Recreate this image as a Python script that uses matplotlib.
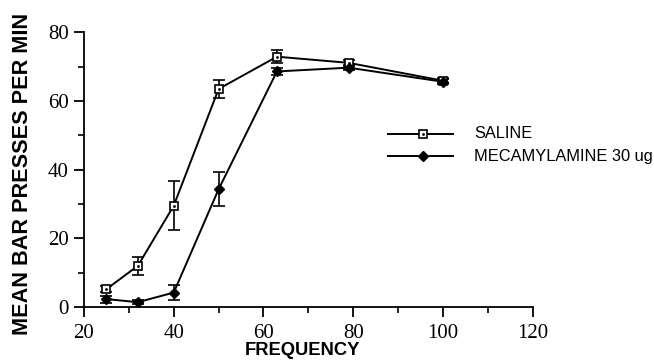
import matplotlib
matplotlib.use("Agg")
import matplotlib.pyplot as plt
from matplotlib.lines import Line2D
from matplotlib.ticker import MultipleLocator

# values
frequency = [25, 32, 40, 50, 63, 79, 100]
saline = [5.2, 12.0, 29.5, 63.5, 72.9, 71.1, 65.9]
saline_err = [0.8, 2.7, 7.1, 2.5, 1.8, 0.9, 0.8]
mecamylamine = [2.3, 1.4, 4.2, 34.3, 68.6, 69.7, 65.6]
mecamylamine_err = [1.0, 0.6, 2.3, 4.9, 0.9, 0.8, 0.8]

labels = ["SALINE", "MECAMYLAMINE 30 ug"]

W, H = 654, 360
fig = plt.figure(figsize=(W / 100, H / 100), dpi=100)
ax = fig.add_axes([84 / W, 1 - 307 / H, 448.7 / W, 274.7 / H])

sal_style = dict(color="black", lw=1.4, marker="s", ms=6, mfc="white", mec="black", mew=1.2)
mec_style = dict(color="black", lw=1.4, marker="D", ms=5.5, mfc="black", mec="black")

ax.errorbar(frequency, saline, yerr=saline_err, capsize=4, elinewidth=1.2,
            capthick=1.2, zorder=3, **sal_style)
ax.plot(frequency, saline, ls="none", marker=".", ms=2, color="black", zorder=4)
ax.errorbar(frequency, mecamylamine, yerr=mecamylamine_err, capsize=4,
            elinewidth=1.2, capthick=1.2, zorder=3, **mec_style)

ax.set_xlim(20, 120)
ax.set_ylim(0, 80)
ax.spines["top"].set_visible(False)
ax.spines["right"].set_visible(False)
for side in ("left", "bottom"):
    ax.spines[side].set_linewidth(1.3)

ax.xaxis.set_major_locator(MultipleLocator(20))
ax.xaxis.set_minor_locator(MultipleLocator(10))
ax.yaxis.set_major_locator(MultipleLocator(20))
ax.yaxis.set_minor_locator(MultipleLocator(10))
ax.tick_params(which="major", direction="out", length=7, width=1.3)
ax.tick_params(which="minor", direction="out", length=4, width=1.2)
ax.tick_params(axis="x", pad=5)
ax.tick_params(axis="y", pad=4)

for lab in ax.get_xticklabels() + ax.get_yticklabels():
    lab.set_family("Liberation Serif")
    lab.set_fontsize(15)

ax.set_xlabel("FREQUENCY", family="Liberation Sans", fontweight="bold", fontsize=13.2)
ax.xaxis.set_label_coords(0.487, -0.128)
ax.xaxis.label.set_va("top")
ax.set_ylabel("MEAN BAR PRESSES PER MIN", family="Liberation Sans",
              fontweight="bold", fontsize=15.6)
ax.yaxis.set_label_coords(-0.113, 0.485)

# legend drawn by hand to match the original layout
legend_rows = [(134, sal_style), (156, mec_style)]
for (ypix, style), text in zip(legend_rows, labels):
    yf = 1 - ypix / H
    fig.add_artist(Line2D([388 / W, 453 / W], [yf, yf], transform=fig.transFigure,
                          color="black", lw=1.4))
    fig.add_artist(Line2D([423 / W], [yf], transform=fig.transFigure, ls="none",
                          **{k: v for k, v in style.items() if k != "lw"}))
    fig.text(474 / W, yf, text, family="Liberation Sans", fontsize=11.8, va="center")
fig.add_artist(Line2D([423 / W], [1 - 134 / H], transform=fig.transFigure, ls="none",
                      marker=".", ms=2, color="black"))

fig.savefig("out.png", dpi=100)
